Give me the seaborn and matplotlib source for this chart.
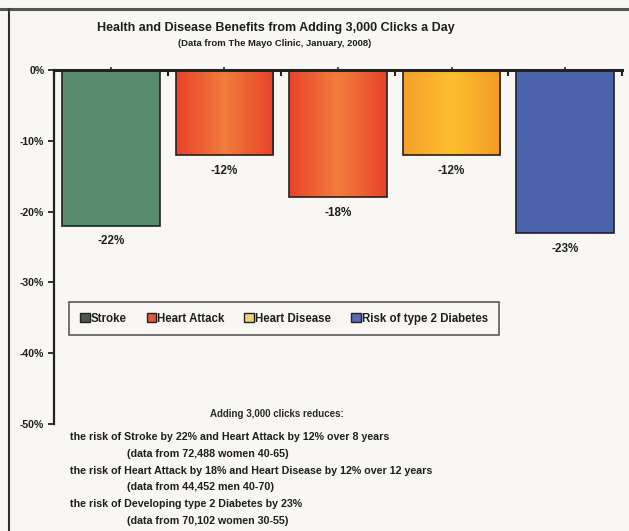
import matplotlib
matplotlib.use("Agg")
import matplotlib.pyplot as plt
import seaborn as sns
import pandas as pd
import numpy as np
from matplotlib.patches import Patch
from matplotlib.lines import Line2D
from matplotlib.ticker import FixedLocator, PercentFormatter

categories = ["Stroke", "Heart Attack", "Heart Disease", "Risk of type 2 Diabetes"]
bar_groups = ["Stroke", "Heart Attack", "Heart Attack", "Heart Disease", "Risk of type 2 Diabetes"]
values = [-22, -12, -18, -12, -23]
bar_labels = ["-22%", "-12%", "-18%", "-12%", "-23%"]
colors = ["#5a8a6c", "#ee5a30", "#ec5a2e", "#f9ac2a", "#4a63ab"]
legend_colors = ["#4a5a50", "#e2583a", "#f2cf7a", "#5a6ab0"]
yticks = [0, -10, -20, -30, -40, -50]

title = "Health and Disease Benefits from Adding 3,000 Clicks a Day"
subtitle = "(Data from The Mayo Clinic, January, 2008)"
notes_head = "Adding 3,000 clicks reduces:"
notes = [
    ("the risk of Stroke by 22% and Heart Attack by 12% over 8 years", 0),
    ("(data from 72,488 women 40-65)", 1),
    ("the risk of Heart Attack by 18% and Heart Disease by 12% over 12 years", 0),
    ("(data from 44,452 men 40-70)", 1),
    ("the risk of Developing type 2 Diabetes by 23%", 0),
    ("(data from 70,102 women 30-55)", 1),
]

sns.set_style("white")
plt.rcParams["font.family"] = ["Liberation Sans", "DejaVu Sans"]
plt.rcParams["font.weight"] = "bold"
plt.rcParams["axes.unicode_minus"] = False

bg = "#f8f7f4"
ink = "#1e1e1e"
fig = plt.figure(figsize=(6.29, 5.31), dpi=100, facecolor=bg)
ax = fig.add_axes([54 / 629, 1 - 424 / 531, 568 / 629, 354 / 531])
ax.set_facecolor(bg)

df = pd.DataFrame({"pos": [str(i) for i in range(len(values))], "value": values})
sns.barplot(data=df, x="pos", y="value", hue="pos", palette=colors, legend=False,
            width=0.86, ax=ax, edgecolor="#222222", linewidth=1.2, saturation=1)

# gradient overlays for the orange/red bars
for i, p in enumerate(ax.patches):
    x0, y0 = p.get_x(), p.get_y()
    w, h = p.get_width(), p.get_height()
    if i in (1, 2):
        cmap = matplotlib.colors.LinearSegmentedColormap.from_list("g", ["#e8432b", "#f27d3c", "#e8432b"])
    elif i == 3:
        cmap = matplotlib.colors.LinearSegmentedColormap.from_list("g", ["#f6a02a", "#fdbf2e", "#f59a28"])
    else:
        continue
    grad = np.linspace(0, 1, 200).reshape(1, -1)
    im = ax.imshow(grad, cmap=cmap, extent=[x0, x0 + w, y0, y0 + h], aspect="auto", zorder=p.get_zorder() + 0.1)
    im.set_clip_path(p)
    p.set_zorder(p.get_zorder() + 0.2)
    p.set_facecolor("none")

ax.set_xlim(-0.5, 4.5)
ax.set_ylim(-50, 0)
ax.set_xlabel("")
ax.set_ylabel("")

for c, lab in zip(ax.containers, bar_labels):
    ax.bar_label(c, labels=[lab], padding=7, fontsize=8.4, fontweight="bold", color=ink)

# axes styling
for s in ["right", "bottom"]:
    ax.spines[s].set_visible(False)
ax.spines["left"].set_color("#222222")
ax.spines["left"].set_linewidth(1.6)
ax.spines["top"].set_color("#222222")
ax.spines["top"].set_linewidth(2.2)
ax.xaxis.tick_top()
ax.set_xticks(range(len(values)))
ax.set_xticklabels([])
ax.tick_params(axis="x", which="major", direction="out", length=2, width=1.2, color="#333333")
ax.xaxis.set_minor_locator(FixedLocator([-0.5, 0.5, 1.5, 2.5, 3.5, 4.5]))
ax.tick_params(axis="x", which="minor", direction="in", length=4, width=1.5, color="#222222", top=True)
ax.set_yticks(yticks)
ax.yaxis.set_major_formatter(PercentFormatter(decimals=0))
ax.tick_params(axis="y", direction="out", length=4, width=1.3, color="#222222",
               labelsize=7.6, pad=3, left=True)
for t in ax.get_yticklabels():
    t.set_fontweight("bold")
    t.set_color(ink)
ax.grid(False)

handles = [Patch(facecolor=c, edgecolor="#222222", linewidth=1.0) for c in legend_colors]
leg = ax.legend(handles, categories, loc="center", bbox_to_anchor=(0.405, 0.298), ncol=4,
                frameon=True, fancybox=False, shadow=False, fontsize=8.3,
                handlelength=0.85, handleheight=0.85, handletextpad=0.1, columnspacing=1.7,
                borderpad=0.95, edgecolor="#333333", facecolor=bg)
leg.get_frame().set_linewidth(1.2)
for t in leg.get_texts():
    t.set_fontweight("bold")
    t.set_color(ink)

fig.text(276 / 629, 1 - 28 / 531, title, ha="center", va="center", fontsize=9.0,
         fontweight="bold", color=ink)
fig.text(275 / 629, 1 - 44 / 531, subtitle, ha="center", va="center", fontsize=6.8,
         fontweight="bold", color=ink)

fig.text(277 / 629, 1 - 414 / 531, notes_head, ha="center", va="center", fontsize=7.0,
         fontweight="bold", color="#2a2a2a")
y = 437
for txt, indent in notes:
    x = 127 if indent else 70
    fig.text(x / 629, 1 - y / 531, txt, ha="left", va="center", fontsize=7.7,
             fontweight="bold", color=ink)
    y += 16.8

# outer frame
fig.add_artist(Line2D([0, 1], [1 - 9 / 531, 1 - 9 / 531], transform=fig.transFigure,
                      color="#555555", linewidth=2.2))
fig.add_artist(Line2D([9 / 629, 9 / 629], [0, 1 - 9 / 531], transform=fig.transFigure,
                      color="#333333", linewidth=1.5))

fig.savefig("out.png", dpi=100, facecolor=bg)
